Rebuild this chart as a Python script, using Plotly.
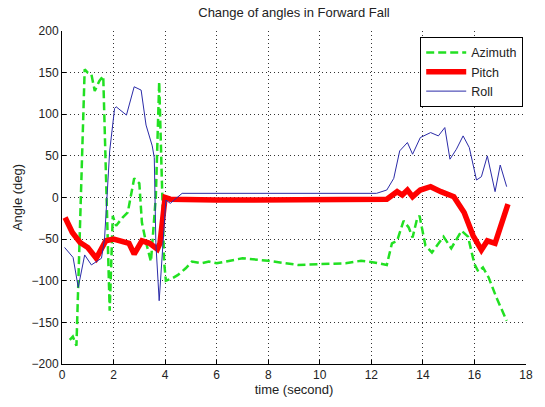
import plotly.graph_objects as go

# ---- data ----
az_t = [0.3, 0.42, 0.56, 0.7, 0.88, 1.0, 1.14, 1.27, 1.45, 1.6, 1.85, 1.97, 2.1, 2.35, 2.55, 2.8,
        3.0, 3.1, 3.26, 3.45, 3.64, 3.77, 3.96, 4.03, 4.28, 4.5, 4.8, 5.04, 5.4, 5.7, 6.0, 7.0,
        8.0, 9.15, 10.0, 11.0, 11.6, 12.1, 12.6, 12.8, 13.0, 13.25, 13.45, 13.6, 13.77, 13.87,
        14.1, 14.35, 14.8, 15.1, 15.5, 15.75, 16.0, 16.15, 16.33, 16.55, 16.85, 17.25]
az_v = [-171, -167, -178, -40, 154, 150, 148, 128, 140, 146, -136, -22, -34, -24, -18, 23,
        17, -30, -54, -77, 1, 139, -77, -100, -97, -93, -85, -77, -79, -77, -79, -73,
        -76, -81, -80, -79, -76, -78, -81, -55, -52, -28, -36, -48, -26, -22,
        -58, -66, -47, -61, -40, -47, -80, -89, -84, -96, -120, -148]

pi_t = [0.12, 0.4, 0.7, 1.0, 1.33, 1.5, 1.7, 2.0, 2.3, 2.6, 2.8, 3.0, 3.1, 3.4, 3.7, 3.8,
        4.0, 4.2, 5.0, 6.0, 7.0, 8.0, 9.0, 10.0, 11.0, 12.0, 12.6, 13.0, 13.2, 13.4, 13.6,
        13.9, 14.3, 14.7, 15.2, 15.6, 15.95, 16.27, 16.5, 16.8, 17.0, 17.3]
pi_v = [-24, -42, -54, -60, -73, -62, -52, -50, -52, -55, -68, -55, -52, -55, -62, -55,
        0, -2, -3, -3, -3, -3, -3, -3, -3, -3, -2, 7, 3, 9, 1,
        9, 13, 7, 1, -18, -46, -63, -52, -55, -34, -8]

ro_t = [0.1, 0.43, 0.63, 0.88, 1.14, 1.53, 1.65, 1.85, 2.04, 2.1, 2.5, 2.8, 3.07, 3.26, 3.5,
        3.58, 3.64, 3.77, 4.03, 4.2, 4.66, 6.0, 8.0, 10.0, 12.2, 12.6, 12.87, 13.1, 13.4,
        13.6, 13.9, 14.3, 14.6, 14.85, 15.05, 15.3, 15.56, 15.8, 16.08, 16.27, 16.5, 16.8,
        17.0, 17.25]
ro_v = [-60, -72, -108, -69, -81, -73, -50, 56, 107, 109, 99, 133, 129, 87, 62,
        48, -54, -124, -3, -7, 5, 5, 5, 5, 5, 9, 23, 56, 66,
        52, 72, 78, 74, 84, 46, 58, 74, 60, 21, 25, 50, 7,
        39, 13]

x_ticks = [0, 2, 4, 6, 8, 10, 12, 14, 16, 18]
y_ticks = [-200, -150, -100, -50, 0, 50, 100, 150, 200]

fig = go.Figure()
fig.add_trace(go.Scatter(x=az_t, y=az_v, mode="lines", name="Azimuth",
                         line=dict(color="#22e022", width=2.5, dash="8px,4px")))
fig.add_trace(go.Scatter(x=pi_t, y=pi_v, mode="lines", name="Pitch",
                         line=dict(color="#ff0000", width=5.5)))
fig.add_trace(go.Scatter(x=ro_t, y=ro_v, mode="lines", name="Roll",
                         line=dict(color="#2b2ba8", width=1)))

font = "Liberation Sans, Arial, sans-serif"
axis_common = dict(showgrid=True, gridcolor="#333333", gridwidth=1, griddash="1px,3px",
                   zeroline=False, showline=True, linecolor="#000000", linewidth=1,
                   ticks="inside", ticklen=4, tickcolor="#000000",
                   tickfont=dict(family=font, size=12, color="#222222"))

fig.update_layout(
    width=545, height=407,
    margin=dict(l=62, r=15, t=31, b=36),
    paper_bgcolor="white", plot_bgcolor="white",
    font=dict(family=font, size=12, color="#222222"),
    title=dict(text="Change of angles in Forward Fall", x=0.5, xref="paper",
               y=1 - 12 / 407, yref="container", yanchor="middle", xanchor="center",
               font=dict(family=font, size=13, color="#222222")),
    xaxis=dict(range=[0, 18], tickvals=x_ticks, title=dict(text="time (second)", standoff=3,
               font=dict(size=13)), **axis_common),
    yaxis=dict(range=[-200, 200], tickvals=y_ticks, title=dict(text="Angle (deg)", standoff=6,
               font=dict(size=13)), **axis_common),
    legend=dict(x=0.994, xanchor="right", y=0.982, yanchor="top",
                bordercolor="#000000", borderwidth=1, bgcolor="white",
                font=dict(family=font, size=12.5, color="#222222"),
                tracegroupgap=0, itemwidth=40),
    showlegend=True,
)

fig.write_html("out.html")
